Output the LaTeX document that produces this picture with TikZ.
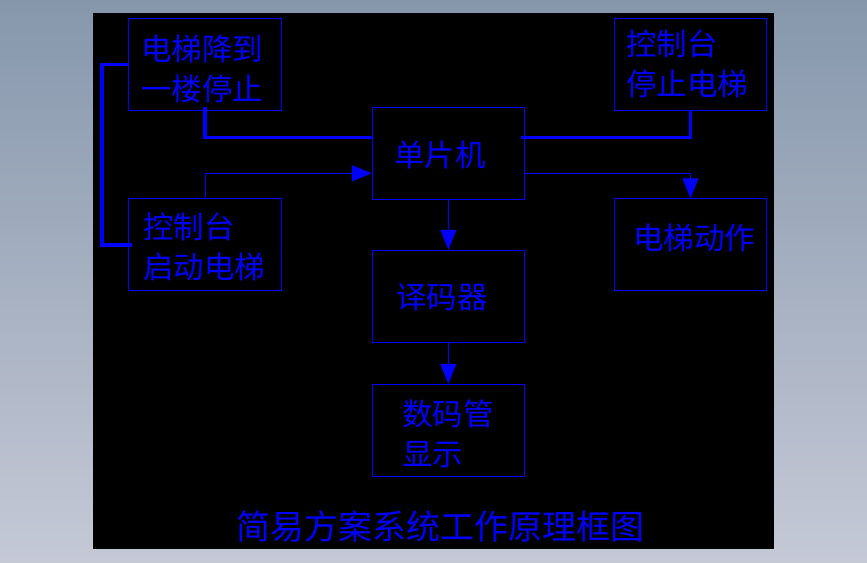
\documentclass[tikz,border=0pt]{standalone}
\usepackage{fontspec}
\newfontfamily\cjk{Noto Sans CJK SC}
\usepackage{tikz}
\usetikzlibrary{calc,arrows.meta}
\definecolor{cadblue}{RGB}{0,0,255}
\definecolor{bgtop}{RGB}{134,151,172}
\definecolor{bgbottom}{RGB}{197,201,214}

\begin{document}
\begin{tikzpicture}[x=1pt,y=-1pt]
                      \tikzstyle{block}=[draw=cadblue,line width=1pt,inner sep=0pt,minimum width=152.5pt,minimum height=92pt]
                      \tikzstyle{boxtext}=[anchor=west,inner sep=0pt,align=left,text=cadblue,font=\cjk\fontsize{30.5}{40}\selectfont]
                      \tikzstyle{bus}=[draw=cadblue,line width=3.4pt]
                      \tikzstyle{flow}=[draw=cadblue,line width=1pt,-{Triangle[length=20pt,width=16pt]}]
                      \shade[top color=bgtop,bottom color=bgbottom] (0,0) rectangle (867,562);
                      \fill[black] (93,13) rectangle (774,548.5);
                      \node[block] (stop1) at (204.8,64.2) {};
                      \node[block] (start) at (205,244.8) {};
                      \node[block] (mcu) at (448.5,153.3) {};
                      \node[block] (dec) at (448.3,296.3) {};
                      \node[block] (disp) at (448.3,430.3) {};
                      \node[block] (stopc) at (690.5,64.2) {};
                      \node[block] (move) at (690.5,244.8) {};
                      \node[boxtext] (stop1t) at (141,69) {电梯降到\\一楼停止};
                      \node[boxtext] (startt) at (143,246.5) {控制台\\启动电梯};
                      \node[boxtext] (stopct) at (626,63.5) {控制台\\停止电梯};
                      \node[boxtext] (movet) at (633,238) {电梯动作};
                      \node[boxtext] (mcut) at (394,155) {单片机};
                      \node[boxtext] (dect) at (396,297) {译码器};
                      \node[boxtext] (dispt) at (402,433.7) {数码管\\显示};
                      \node[text=cadblue,inner sep=0pt,font=\cjk\fontsize{34}{34}\selectfont] (title) at (440,527) {简易方案系统工作原理框图};
                      \draw[bus] ([yshift=4pt]stop1.south) |- ([yshift=15.6pt]mcu.west);
                      \draw[bus] (stopc.south) |- ([xshift=-4.7pt,yshift=15.6pt]mcu.east);
                      \draw[bus] (stop1.west) -- ++(-26,0) |- ([xshift=3.4pt]start.west);
                      \draw[flow] (start.north) |- ([yshift=-20pt]mcu.west);
                      \draw[flow] ([yshift=-20pt]mcu.east) -| (move.north);
                      \draw[flow] (mcu.south) -- (dec.north);
                      \draw[flow] (dec.south) -- (disp.north);
                  \end{tikzpicture}
\end{document}
